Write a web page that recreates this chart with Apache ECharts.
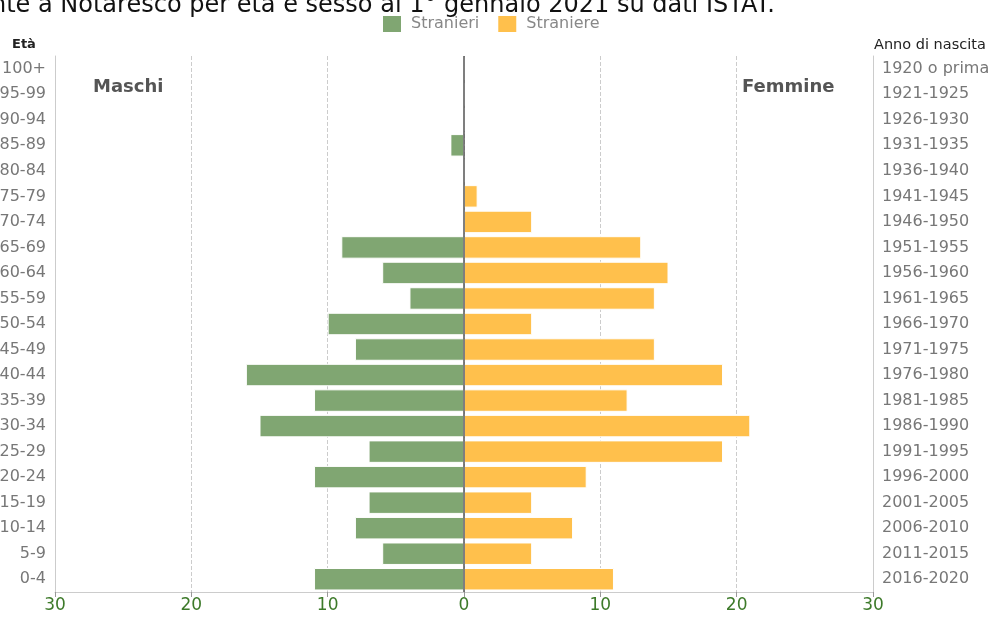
<!DOCTYPE html>
<html>
<head>
<meta charset="utf-8">
<script src="https://cdn.jsdelivr.net/npm/echarts@6/dist/echarts.min.js"></script>
<style>
  html, body { margin: 0; padding: 0; background: #fff; }
  #chart { width: 993px; height: 618px; }
</style>
</head>
<body>
<div id="chart"></div>
<script>
// fasce d'età dal basso verso l'alto
const ageGroups = ['0-4', '5-9', '10-14', '15-19', '20-24', '25-29', '30-34', '35-39', '40-44', '45-49',
  '50-54', '55-59', '60-64', '65-69', '70-74', '75-79', '80-84', '85-89', '90-94', '95-99', '100+']
const birthYears = ['2016-2020', '2011-2015', '2006-2010', '2001-2005', '1996-2000', '1991-1995', '1986-1990',
  '1981-1985', '1976-1980', '1971-1975', '1966-1970', '1961-1965', '1956-1960', '1951-1955', '1946-1950',
  '1941-1945', '1936-1940', '1931-1935', '1926-1930', '1921-1925', '1920 o prima']
const maschi = [11, 6, 8, 7, 11, 7, 15, 11, 16, 8, 10, 4, 6, 9, 0, 0, 0, 1, 0, 0, 0]
const femmine = [11, 5, 8, 5, 9, 19, 21, 12, 19, 14, 5, 14, 15, 13, 5, 1, 0, 0, 0, 0, 0]
const xTicks = { min: -30, max: 30, interval: 10 }

const chart = echarts.init(document.getElementById('chart'))
const font = 'DejaVu Sans, Verdana, sans-serif'

chart.setOption({
  animation: false,
  textStyle: { fontFamily: font },
  title: {
    text: 'Popolazione straniera residente a Notaresco per età e sesso al 1° gennaio 2021 su dati ISTAT.',
    right: 213,
    top: -11,
    textStyle: { fontSize: 24, fontWeight: 'normal', color: '#111', fontFamily: font }
  },
  legend: {
    data: ['Stranieri', 'Straniere'],
    left: 376,
    top: 9,
    itemWidth: 20,
    itemHeight: 18,
    itemGap: 17,
    icon: 'rect',
    textStyle: { color: '#888', fontSize: 16, fontFamily: font, padding: [0, 0, 0, 4] }
  },
  graphic: [
    { type: 'text', left: 12, top: 38, style: { text: 'Età', font: 'bold 13px ' + font, fill: '#222' } },
    { type: 'text', left: 874, top: 38, style: { text: 'Anno di nascita', font: '14.5px ' + font, fill: '#222' } },
    { type: 'text', left: 93, top: 78, style: { text: 'Maschi', font: 'bold 18px ' + font, fill: '#555' } },
    { type: 'text', left: 742, top: 78, style: { text: 'Femmine', font: 'bold 18px ' + font, fill: '#555' } }
  ],
  grid: { left: 55, right: 120, top: 56, bottom: 26, containLabel: false, outerBoundsMode: 'none' },
  xAxis: {
    type: 'value',
    min: xTicks.min,
    max: xTicks.max,
    interval: xTicks.interval,
    axisLine: { show: true, lineStyle: { color: '#ccc', width: 1 } },
    axisTick: { show: true, length: 5, lineStyle: { color: '#999' } },
    axisLabel: {
      color: '#3d7a2a',
      fontSize: 17,
      margin: 5,
      formatter: v => Math.abs(v)
    },
    splitLine: { show: true, lineStyle: { color: '#ccc', type: 'dashed' } }
  },
  yAxis: [
    {
      type: 'category',
      data: ageGroups,
      position: 'left',
      axisLine: { show: true, onZero: false, lineStyle: { color: '#ccc', type: 'dashed' } },
      axisTick: { show: false },
      axisLabel: { color: '#777', fontSize: 16, margin: 9 }
    },
    {
      type: 'category',
      data: birthYears,
      position: 'right',
      axisLine: { show: true, onZero: false, lineStyle: { color: '#ccc' } },
      axisTick: { show: false },
      axisLabel: { color: '#777', fontSize: 16, margin: 9 }
    }
  ],
  series: [
    {
      name: 'Stranieri',
      type: 'bar',
      stack: 'pop',
      barCategoryGap: '12%',
      data: maschi.map(v => -v),
      itemStyle: { color: '#80a672', borderColor: '#fff', borderWidth: 1 },
      markLine: {
        silent: true,
        symbol: 'none',
        label: { show: false },
        lineStyle: { color: '#555', type: 'solid', width: 1.5 },
        data: [{ xAxis: 0 }]
      }
    },
    {
      name: 'Straniere',
      type: 'bar',
      stack: 'pop',
      data: femmine,
      itemStyle: { color: '#ffc04c', borderColor: '#fff', borderWidth: 1 }
    }
  ]
})
</script>
</body>
</html>
